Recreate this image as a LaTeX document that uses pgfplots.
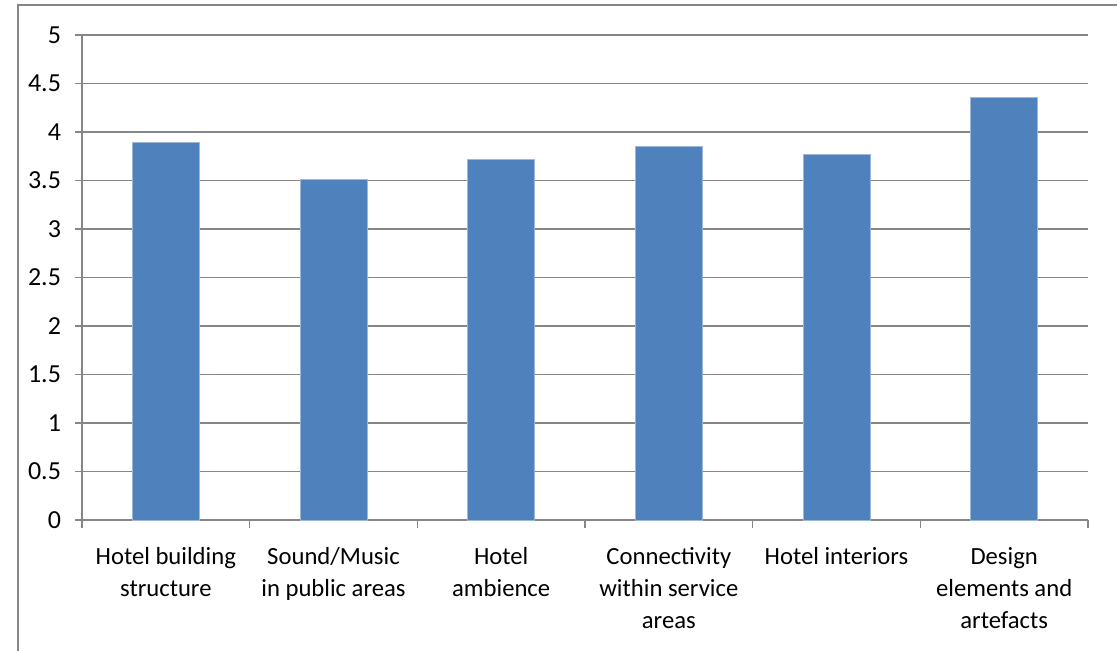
\documentclass[border=0pt]{standalone}
\usepackage{pgfplots}
\pgfplotsset{compat=1.18}
\usepackage{fontspec}
\setmainfont{Carlito}
\definecolor{barblue}{HTML}{4F81BD}
\definecolor{baredge}{HTML}{9DB7D9}
\definecolor{gridgray}{HTML}{868686}
\begin{document}
\begin{tikzpicture}
\path[use as bounding box] (0pt,0pt) rectangle (837.75pt,487.5pt);
\draw[gridgray, line width=1.5pt] (13.5pt,-10pt) -- (13.5pt,483.75pt) -- (850pt,483.75pt);
\begin{axis}[
  at={(61.5pt,97.5pt)}, anchor=south west,
  scale only axis, width=754.5pt, height=363.75pt,
  xmin=-0.5, xmax=5.5, ymin=0, ymax=5,
  ytick={0,0.5,...,5},
  yticklabels={0,0.5,1,1.5,2,2.5,3,3.5,4,4.5,5},
  xtick={0,1,2,3,4,5},
  xticklabels={{Hotel building\\structure},{Sound/Music\\in public areas},{Hotel\\ambience},{Connectivity\\within service\\areas},{Hotel interiors},{Design\\elements and\\artefacts}},
  minor xtick={-0.5,0.5,1.5,2.5,3.5,4.5,5.5},
  axis x line*=bottom, axis y line*=left,
  axis line style={gridgray, line width=1pt},
  ymajorgrids, major grid style={gridgray, line width=1.2pt},
  tick align=outside,
  major tick length=5.25pt, minor tick length=6pt,
  x tick style={draw=none},
  minor x tick style={draw=gridgray, line width=1pt},
  y tick style={gridgray, line width=1pt},
  tick label style={black},
  xticklabel style={font=\fontsize{18.5}{24}\selectfont, align=center, yshift=-11.5pt},
  yticklabel style={font=\fontsize{19.5}{24}\selectfont, xshift=-7pt},
  /pgf/number format/assume math mode=true,
  ybar, bar width=50.25pt,
]
\addplot[fill=barblue, draw=baredge, line width=0.5pt] coordinates {
  (0,3.89) (1,3.51) (2,3.72) (3,3.85) (4,3.77) (5,4.36)
};
\end{axis}
\end{tikzpicture}
\end{document}
